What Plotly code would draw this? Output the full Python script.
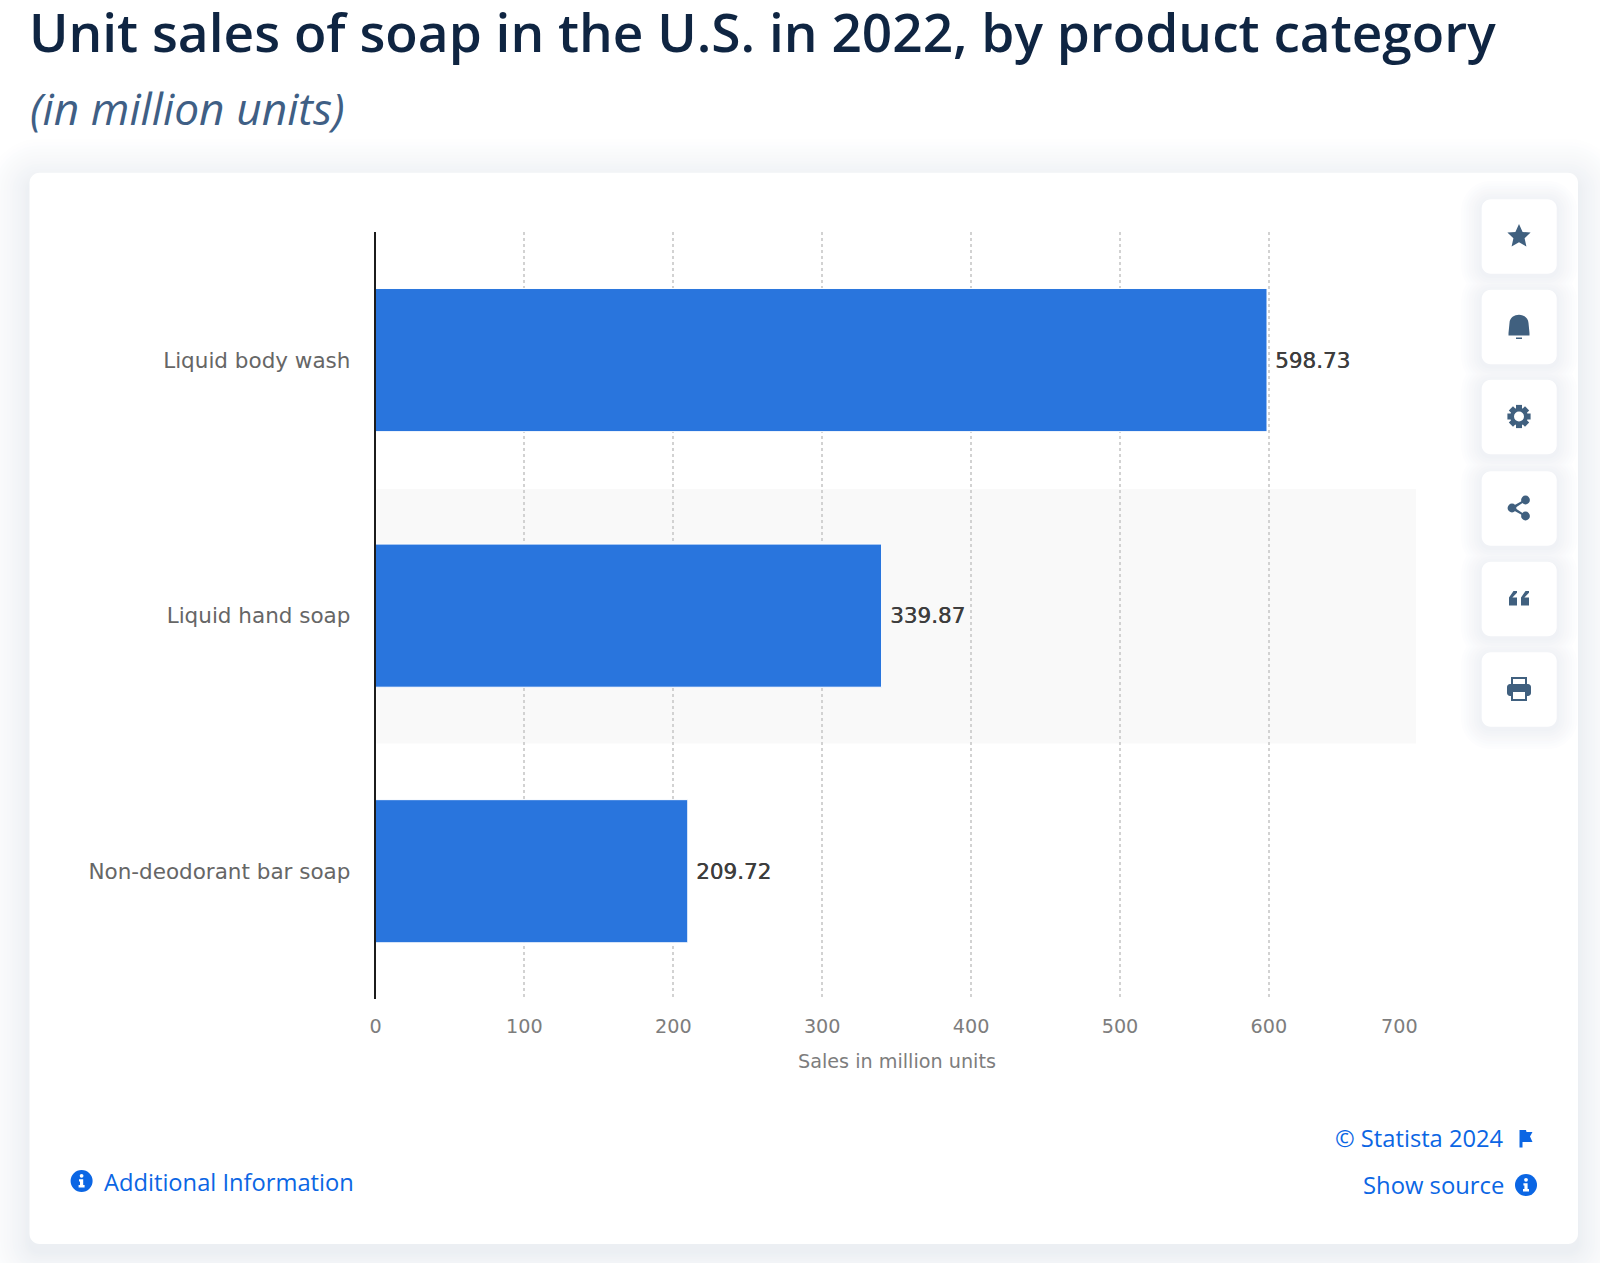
import plotly.graph_objects as go

# ---- data ----
categories = ["Liquid body wash", "Liquid hand soap", "Non-deodorant bar soap"]
sales = [598.73, 339.87, 209.72]
value_labels = ["598.73", "339.87", "209.72"]
x_ticks = [0, 100, 200, 300, 400, 500, 600, 700]
x_tick_labels = ["0", "100", "200", "300", "400", "500", "600", ""]
last_tick_label = "700"

title_text = "Unit sales of soap in the U.S. in 2022, by product category"
subtitle_text = "(in million units)"
axis_title = "Sales in million units"

W, H = 1600, 1263
BLUE_LINK = "#0b66e4"
ICON = "#40607f"
FONT_OS = "Open Sans"
FONT_LAB = "DejaVu Sans"


def fx(x):
    return x / W


def fy(y):
    return 1 - y / H


def path(cmds):
    out = []
    for c in cmds:
        op, pts = c[0], c[1:]
        out.append(op + " ".join(f"{fx(pts[i]):.6f},{fy(pts[i+1]):.6f}" for i in range(0, len(pts), 2)))
    return " ".join(out)


def rr_cmds(x0, y0, x1, y1, r):
    k = r * 0.45
    return [
        ("M", x0 + r, y0), ("L", x1 - r, y0),
        ("C", x1 - k, y0, x1, y0 + k, x1, y0 + r), ("L", x1, y1 - r),
        ("C", x1, y1 - k, x1 - k, y1, x1 - r, y1), ("L", x0 + r, y1),
        ("C", x0 + k, y1, x0, y1 - k, x0, y1 - r), ("L", x0, y0 + r),
        ("C", x0, y0 + k, x0 + k, y0, x0 + r, y0),
    ]


def pshape(cmds, fill, close=True):
    return dict(type="path", xref="paper", yref="paper", layer="below",
                path=path(cmds) + (" Z" if close else ""), fillcolor=fill, line=dict(width=0))


def circ(cx, cy, r, fill):
    return dict(type="circle", xref="paper", yref="paper", layer="below",
                x0=fx(cx - r), x1=fx(cx + r), y0=fy(cy + r), y1=fy(cy - r),
                fillcolor=fill, line=dict(width=0))


def rect(x0, y0, x1, y1, fill):
    return dict(type="rect", xref="paper", yref="paper", layer="below",
                x0=fx(x0), x1=fx(x1), y0=fy(y1), y1=fy(y0), fillcolor=fill, line=dict(width=0))


def lerp_white(target, t):
    return "rgb(" + ",".join(str(round(255 + (c - 255) * t)) for c in target) + ")"


def info_icon(cx, cy, r=11):
    return [
        circ(cx, cy, r, BLUE_LINK),
        circ(cx, cy - 5.2, 1.9, "white"),
        pshape([("M", cx - 2.6, cy - 1.8), ("L", cx + 1.6, cy - 1.8), ("L", cx + 1.6, cy + 4),
                ("L", cx + 3, cy + 4), ("L", cx + 3, cy + 6.4), ("L", cx - 3, cy + 6.4),
                ("L", cx - 3, cy + 4), ("L", cx - 1.6, cy + 4), ("L", cx - 1.6, cy + 0.4),
                ("L", cx - 2.6, cy + 0.4)], "white"),
    ]


shapes = []

# card shadow (opaque steps, outer to inner) and card
CX0, CY0, CX1, CY1 = 29.5, 172.7, 1578, 1244
N = 16
for k in range(N, 0, -1):
    d = 42 * (k / N) ** 1.3
    shapes.append(pshape(rr_cmds(CX0 - d, CY0 - d + 8, CX1 + d, CY1 + d + 8, 10 + d),
                         lerp_white((236, 239, 243), 1 - (k - 1) / N)))
shapes.append(pshape(rr_cmds(CX0, CY0, CX1, CY1, 10), "white"))

# shaded band of the middle category
shapes.append(rect(376.5, 489, 1416, 743.6, "#f9f9f9"))

# side buttons, shadow steps are drawn per level so neighbours merge cleanly
BTN_X0, BTN_X1 = 1481.7, 1556.7
btn_centres = [236.5, 327, 417, 508.5, 599, 689.5]
M = 8
for k in range(M, 0, -1):
    d = 20.5 * k / M
    col = lerp_white((240, 242, 246), 1 - (k - 1) / M)
    for cy in btn_centres:
        shapes.append(pshape(rr_cmds(BTN_X0 - d, cy - 37 - d + 2, BTN_X1 + d, cy + 37 + d + 2, 9 + d), col))
for cy in btn_centres:
    shapes.append(pshape(rr_cmds(BTN_X0, cy - 37.2, BTN_X1, cy + 37.2, 9), "white"))

ix = 1519
# star
c = btn_centres[0] - 0.5
star = [(0, -12), (3.6, -4), (11.6, -3.6), (5.6, 2.2), (7.4, 10.6), (0, 6.2),
        (-7.4, 10.6), (-5.6, 2.2), (-11.6, -3.6), (-3.6, -4)]
shapes.append(pshape([("M" if i == 0 else "L", ix + p[0], c + p[1]) for i, p in enumerate(star)], ICON))
# bell
c = btn_centres[1] - 1
shapes.append(pshape([("M", ix - 10.5, c + 7), ("L", ix - 9.5, c - 3),
                      ("C", ix - 9, c - 14, ix + 9, c - 14, ix + 9.5, c - 3),
                      ("L", ix + 10.5, c + 7), ("L", ix + 10.5, c + 9.5), ("L", ix - 10.5, c + 9.5)], ICON))
shapes.append(rect(ix - 3, c + 11.5, ix + 3, c + 13, ICON))
# gear
c = btn_centres[2] - 0.5
for a, b, e, f in [(-3, -11.6, 3, 11.6), (-11.6, -3, 11.6, 3)]:
    shapes.append(rect(ix + a, c + b, ix + e, c + f, ICON))
for s in (-1, 1):
    shapes.append(pshape([("M", ix + s * 10.2, c - 6), ("L", ix + s * 6, c - 10.2),
                          ("L", ix - s * 10.2, c + 6), ("L", ix - s * 6, c + 10.2)], ICON))
shapes.append(circ(ix, c, 8.8, ICON))
shapes.append(circ(ix, c, 5, "white"))
# share
c = btn_centres[3] - 0.5
shapes.append(circ(ix - 7, c, 4.4, ICON))
shapes.append(circ(ix + 6.5, c - 8, 4.4, ICON))
shapes.append(circ(ix + 6.5, c + 8, 4.4, ICON))
shapes.append(pshape([("M", ix - 7, c - 1.5), ("L", ix + 6.5, c - 9), ("L", ix + 6.5, c - 7),
                      ("L", ix - 4, c), ("L", ix + 6.5, c + 7), ("L", ix + 6.5, c + 9),
                      ("L", ix - 7, c + 1.5)], ICON))
# quote marks
c = btn_centres[4] - 0.5
for dx in (-10, 2):
    shapes.append(pshape([("M", ix + dx, c - 1), ("L", ix + dx + 4.5, c - 7.5), ("L", ix + dx + 8, c - 7.5),
                          ("L", ix + dx + 8, c - 5.8), ("L", ix + dx + 3.4, c - 1), ("L", ix + dx + 8, c - 1),
                          ("L", ix + dx + 8, c + 7), ("L", ix + dx, c + 7)], ICON))
# printer
c = btn_centres[5] - 0.5
shapes.append(pshape(rr_cmds(ix - 12, c - 5, ix + 12, c + 7, 3), ICON))
shapes.append(rect(ix - 8, c - 12, ix + 8, c - 4, ICON))
shapes.append(rect(ix - 6, c - 10, ix + 6, c - 5, "white"))
shapes.append(rect(ix - 8, c + 1, ix + 8, c + 12, ICON))
shapes.append(rect(ix - 6, c + 3, ix + 6, c + 10, "white"))

# footer icons
shapes += info_icon(81.6, 1181)
shapes += info_icon(1526, 1185)
shapes.append(pshape([("M", 1519.5, 1130), ("L", 1526, 1130), ("L", 1526.5, 1132), ("L", 1532.5, 1132),
                      ("L", 1530, 1136.5), ("L", 1532.5, 1142), ("L", 1522.5, 1142), ("L", 1522.5, 1147.5),
                      ("L", 1519.5, 1147.5)], BLUE_LINK))


def note(text, x, y, size, color, family=FONT_OS, anchor="left", weight=None, style=None):
    return dict(text=text, xref="paper", yref="paper", x=fx(x), y=fy(y), xanchor=anchor, yanchor="middle",
                showarrow=False, align=anchor,
                font=dict(family=family, size=size, color=color, weight=weight, style=style))


annotations = [
    note(title_text, 27, 31, 53.2, "#0f2542", weight=600),
    note(subtitle_text, 27.5, 108, 44.3, "#3f5f85", weight=400, style="italic"),
    note("Additional Information", 102, 1181.5, 23.7, BLUE_LINK),
    note("© Statista 2024", 1506, 1138, 23.7, BLUE_LINK, anchor="right"),
    note("Show source", 1506, 1185, 23.8, BLUE_LINK, anchor="right"),
    note(axis_title, 897, 1061, 19.2, "#7d7d7d", family=FONT_LAB, anchor="center"),
]
for cat, val, lab in zip(categories, sales, value_labels):
    annotations.append(dict(x=val, y=cat, xref="x", yref="y", text=lab, showarrow=False, xanchor="left",
                            yanchor="middle", xshift=6,
                            font=dict(family=FONT_LAB, size=21.5, color="#3d3d3d",
                                      shadow="0.4px 0 0 #3d3d3d")))
annotations.append(dict(x=x_ticks[-1], xref="x", y=fy(1026.7), yref="paper", text=last_tick_label,
                        showarrow=False, xanchor="center", yanchor="middle", xshift=-18,
                        font=dict(family=FONT_LAB, size=19.2, color="#7d7d7d")))

fig = go.Figure(go.Bar(
    y=categories, x=sales, orientation="h",
    marker=dict(color="#2975dd", line=dict(color="white", width=1)),
    showlegend=False, cliponaxis=False, hoverinfo="x+y",
))

fig.update_layout(
    width=W, height=H, margin=dict(l=0, r=0, t=0, b=0, autoexpand=False),
    paper_bgcolor="white", plot_bgcolor="rgba(0,0,0,0)", bargap=0.44,
    shapes=shapes, annotations=annotations,
    xaxis=dict(domain=[fx(375.5), fx(1417.8)], range=[0, 700], tickmode="array",
               tickvals=x_ticks, ticktext=x_tick_labels, showgrid=True, gridcolor="#d2d2d2",
               griddash="dot", gridwidth=1.5, zeroline=False, showline=False,
               ticks="outside", ticklen=10, tickcolor="rgba(0,0,0,0)",
               tickfont=dict(family=FONT_LAB, size=19.2, color="#7d7d7d")),
    yaxis=dict(domain=[fy(999), fy(232.3)], type="category", categoryorder="array",
               categoryarray=categories, autorange="reversed", showgrid=False, zeroline=False,
               showline=True, linecolor="#1c1c1c", linewidth=1.5, ticks="outside", ticklen=19,
               tickcolor="rgba(0,0,0,0)",
               tickfont=dict(family=FONT_LAB, size=21.5, color="#666666")),
)

fig.write_html("out.html", config=dict(displayModeBar=False),
               post_script="document.body.style.margin='0';document.body.style.overflow='hidden';")
